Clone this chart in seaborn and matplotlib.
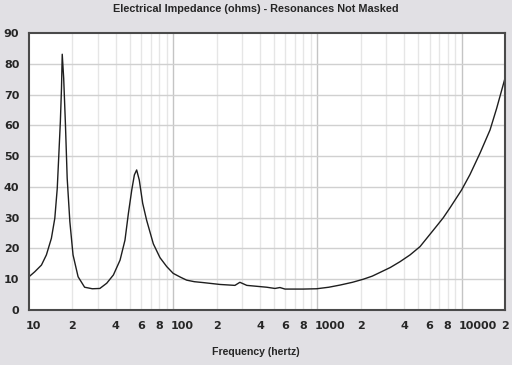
import pandas as pd
import matplotlib
matplotlib.use("Agg")
import matplotlib.pyplot as plt
import matplotlib.ticker as mticker
import matplotlib.transforms as mtransforms
import seaborn as sns

# Impedance curve (Hz, ohms)
freq = [10, 10.95, 12.2, 13.2, 14.3, 15.1, 15.7, 16.1, 16.5, 16.8, 17.0,
        17.4, 17.9, 18.4, 19.2, 20.2, 21.9, 24.3, 27.5, 31.0, 34.6, 38.5,
        42.8, 46.3, 48.9, 51.6, 53.8, 55.8, 58.2, 61.4, 65.4, 72.8, 81.0,
        90.2, 100, 113, 124, 140, 162, 211, 268, 290, 324, 445, 508, 550,
        596, 798, 988, 1200, 1435, 1750, 2081, 2400, 2716, 3200, 3741, 4390,
        5150, 6720, 7470, 8310, 10000, 11430, 13430, 15750, 17500, 20000]
ohms = [10.8, 12.4, 14.6, 17.9, 23.3, 29.8, 39.5, 50.4, 61.2, 72.0, 83.1,
        75.3, 60.1, 42.8, 28.7, 17.9, 10.8, 7.4, 6.9, 7.0, 8.7, 11.4,
        16.2, 22.7, 31.4, 39.0, 43.9, 45.5, 42.2, 34.7, 29.2, 21.5, 17.0,
        14.1, 11.9, 10.6, 9.7, 9.2, 8.9, 8.3, 8.0, 9.0, 8.0, 7.4, 7.0, 7.3,
        6.8, 6.8, 6.9, 7.4, 8.1, 9.0, 10.0, 11.0, 12.2, 13.8, 15.7, 17.9,
        20.6, 27.3, 30.0, 33.2, 39.0, 44.0, 51.0, 58.5, 65.5, 75.3]

x_ticks = [10, 20, 40, 60, 80, 100, 200, 400, 600, 800, 1000, 2000, 4000,
           6000, 8000, 10000, 20000]
x_labels = ["10", "2", "4", "6", "8", "100", "2", "4", "6", "8", "1000", "2",
            "4", "6", "8", "10000", "2"]
y_ticks = [0, 10, 20, 30, 40, 50, 60, 70, 80, 90]

df = pd.DataFrame({"freq": freq, "ohms": ohms})

sns.set_style("white")
plt.rcParams["font.family"] = ["DejaVu Sans"]

bg = "#e1e0e4"
fig = plt.figure(figsize=(5.12, 3.65), dpi=100, facecolor=bg)
ax = fig.add_axes([29 / 512, 55 / 365, 476 / 512, 277 / 365])

sns.lineplot(data=df, x="freq", y="ohms", ax=ax, color="#1e1e1e",
             linewidth=1.0, sort=False)

ax.set_xscale("log")
ax.set_xlim(10, 20000)
ax.set_ylim(0, 90)

# grid: 2-9 in every decade light, decade lines darker
minor = [m * 10 ** d for d in range(1, 5) for m in range(2, 10) if m * 10 ** d < 20000]
for v in minor:
    ax.axvline(v, color="#e6e6e6", lw=1.0, zorder=0)
for v in [100, 1000, 10000]:
    ax.axvline(v, color="#c4c4c4", lw=1.0, zorder=0)
for v in y_ticks[1:-1]:
    ax.axhline(v, color="#d0d0d0", lw=1.0, zorder=0)

ax.xaxis.set_major_locator(mticker.FixedLocator(x_ticks))
ax.xaxis.set_minor_locator(mticker.NullLocator())
ax.set_xticklabels(x_labels)
ax.set_yticks(y_ticks)
ax.tick_params(axis="x", length=0, labelsize=8, pad=8)
ax.tick_params(axis="y", length=0, labelsize=8, pad=7)
shift = mtransforms.ScaledTranslation(-3 / 100, 0, fig.dpi_scale_trans)
for lab in ax.get_xticklabels():
    lab.set_fontweight("bold")
    if len(lab.get_text()) > 1:
        # decade labels start at their grid line
        lab.set_horizontalalignment("left")
        lab.set_transform(lab.get_transform() + shift)
for lab in ax.get_yticklabels():
    lab.set_fontweight("bold")

for s in ax.spines.values():
    s.set_color("#4a4a4a")
    s.set_linewidth(1.5)

ax.set_xlabel("")
ax.set_ylabel("")
fig.text(0.5, 0.975, "Electrical Impedance (ohms) - Resonances Not Masked",
         ha="center", va="center", fontsize=7.8, fontweight="bold",
         family="Liberation Sans")
fig.text(0.5, 0.036, "Frequency (hertz)", ha="center", va="center",
         fontsize=7.6, fontweight="bold", family="Liberation Sans")

fig.savefig("out.png", dpi=100, facecolor=bg)
